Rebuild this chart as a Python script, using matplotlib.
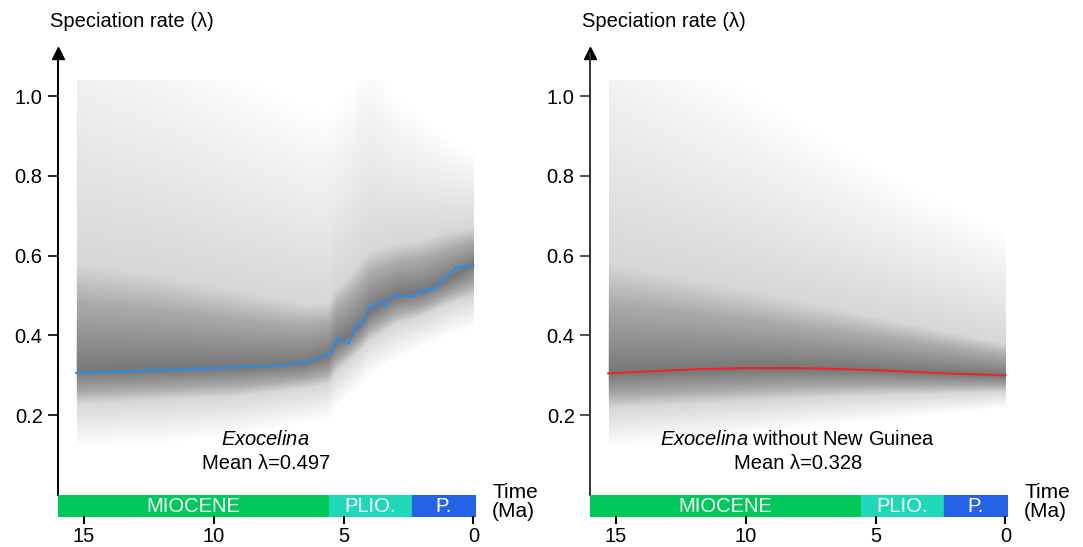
import numpy as np
import matplotlib
matplotlib.use("Agg")
import matplotlib.pyplot as plt
from matplotlib.patches import Rectangle

plt.rcParams['font.family'] = ['Liberation Sans', 'DejaVu Sans']
plt.rcParams['mathtext.fontset'] = 'custom'
plt.rcParams['mathtext.rm'] = 'Liberation Sans'
plt.rcParams['mathtext.it'] = 'Liberation Sans:italic'

# mean speciation rate through time
t_exo = [15.3, 14, 12, 10, 8, 7, 6.2, 5.45, 5.25, 4.8, 4.48, 4.33, 4.01, 3.87, 3.59,
         3.40, 3.23, 2.95, 2.82, 2.31, 2.15, 1.92, 1.72, 1.54, 1.28, 0.64, 0.51, 0.13, 0.0]
rate_exo = [0.306, 0.309, 0.313, 0.318, 0.323, 0.328, 0.338, 0.357, 0.393, 0.380, 0.429,
            0.424, 0.468, 0.472, 0.485, 0.474, 0.495, 0.501, 0.499, 0.497, 0.512, 0.505,
            0.518, 0.516, 0.531, 0.571, 0.570, 0.576, 0.575]

t_ng = [15.3, 14, 12, 10, 8, 6, 4, 2, 0]
rate_ng = [0.305, 0.309, 0.315, 0.318, 0.318, 0.315, 0.310, 0.304, 0.300]

# posterior density envelopes (mode, 50% and 95% bounds)
tb_exo = [15.3, 12, 9, 6.5, 5.6, 5.3, 4.8, 4.3, 4.0, 3.5, 3.0, 2.0, 1.0, 0.0]
mode_exo = [0.31, 0.315, 0.32, 0.33, 0.35, 0.38, 0.40, 0.43, 0.46, 0.48, 0.50, 0.51, 0.54, 0.58]
hi95_exo = [1.30, 1.18, 1.06, 0.97, 0.96, 0.98, 1.02, 1.08, 1.10, 1.05, 1.00, 0.95, 0.90, 0.86]
hi50_exo = [0.58, 0.55, 0.51, 0.48, 0.48, 0.52, 0.55, 0.59, 0.61, 0.62, 0.63, 0.64, 0.66, 0.67]
lo50_exo = [0.23, 0.24, 0.25, 0.27, 0.28, 0.31, 0.34, 0.37, 0.39, 0.41, 0.43, 0.45, 0.48, 0.50]
lo95_exo = [0.12, 0.13, 0.15, 0.18, 0.19, 0.22, 0.25, 0.28, 0.30, 0.32, 0.34, 0.37, 0.40, 0.42]

tb_ng = [15.3, 12, 9, 6, 3, 0]
mode_ng = [0.305, 0.313, 0.318, 0.316, 0.308, 0.300]
hi95_ng = [1.25, 1.10, 0.98, 0.86, 0.75, 0.66]
hi50_ng = [0.58, 0.54, 0.50, 0.46, 0.42, 0.38]
lo50_ng = [0.22, 0.23, 0.24, 0.25, 0.255, 0.26]
lo95_ng = [0.12, 0.14, 0.16, 0.18, 0.20, 0.22]

# geological time scale
epoch_names = ["MIOCENE", "PLIO.", "P."]
epoch_start = [16.0, 5.58, 2.37]
epoch_end = [5.58, 2.37, -0.06]
epoch_colors = ["#00c85a", "#1ed8b8", "#2563e6"]

yticks = [0.2, 0.4, 0.6, 0.8, 1.0]
xticks = [15, 10, 5, 0]
grid_top = 1.04


def density(ax, tb, mode, lo95, lo50, hi50, hi95, n=40, a_in=0.012, a_out=0.005):
    tb = np.array(tb); mode = np.array(mode)
    lo95 = np.array(lo95); lo50 = np.array(lo50)
    hi50 = np.array(hi50); hi95 = np.array(hi95)
    clip = Rectangle((0, 0), tb[0], grid_top, transform=ax.transData)
    # outer layers first (light), then inner layers (dark)
    for k in range(n, 0, -1):
        g = k / n
        up = hi50 + g * (hi95 - hi50)
        lo = lo50 - g * (lo50 - lo95)
        p = ax.fill_between(tb, lo, up, color="black", alpha=a_out, lw=0)
        p.set_clip_path(clip)
    for k in range(n, 0, -1):
        g = k / n
        up = mode + g * (hi50 - mode)
        lo = mode - g * (mode - lo50)
        p = ax.fill_between(tb, lo, up, color="black", alpha=a_in, lw=0)
        p.set_clip_path(clip)


def panel(left, spine_col, line_t, line_r, line_col, band, name, mean_txt):
    ax = fig.add_axes([left, 52 / 547, 0.385, (495 - 52.5) / 547])
    density(ax, *band)
    ax.plot(line_t, line_r, color=line_col, lw=1.5)
    ax.set_xlim(16, -0.06)
    ax.set_ylim(0, (495 - 52.5) / 399)
    for s in ["top", "right", "bottom"]:
        ax.spines[s].set_visible(False)
    ax.spines["left"].set_color(spine_col)
    ax.spines["left"].set_linewidth(1.4)
    ax.plot(0, 1, marker="^", ms=8.5, color="black", transform=ax.transAxes, clip_on=False)
    ax.set_xticks([])
    ax.set_yticks(yticks)
    ax.set_yticklabels([f"{v:.1f}" for v in yticks])
    ax.tick_params(axis="y", length=7, width=1.2, color=spine_col, labelsize=14.5, pad=4)
    ax.text(-0.019, 1.07, "Speciation rate (λ)", transform=ax.transAxes, fontsize=14.5,
            ha="left", va="center")
    ax.text(8, 0.138, name, ha="center", va="center", fontsize=14.5)
    ax.text(8, 0.08, mean_txt, ha="center", va="center", fontsize=14.5)

    bar = fig.add_axes([left, 31 / 547, 0.385, 21 / 547])
    for nm, s, e, c in zip(epoch_names, epoch_start, epoch_end, epoch_colors):
        bar.broken_barh([(e, s - e)], (0, 1), color=c)
        bar.text((s + e) / 2, 0.45, nm, color="white", ha="center", va="center", fontsize=14.5)
    bar.set_xlim(16, -0.06)
    bar.set_ylim(0, 1)
    for s in ["top", "right", "left", "bottom"]:
        bar.spines[s].set_visible(False)
    bar.set_yticks([])
    bar.set_xticks(xticks)
    bar.tick_params(axis="x", length=6, width=1.5, labelsize=14.5, pad=2)
    bar.text(-0.72, 1.1, "Time", ha="left", va="center", fontsize=15, clip_on=False)
    bar.text(-0.72, 0.22, "(Ma)", ha="left", va="center", fontsize=15, clip_on=False)
    return ax


fig = plt.figure(figsize=(10.83, 5.47), dpi=100)

panel(58 / 1083, "black", t_exo, rate_exo, "#2a8cea",
      (tb_exo, mode_exo, lo95_exo, lo50_exo, hi50_exo, hi95_exo),
      r"$\it{Exocelina}$", "Mean λ=0.497")
panel(590 / 1083, "#333333", t_ng, rate_ng, "#e8282c",
      (tb_ng, mode_ng, lo95_ng, lo50_ng, hi50_ng, hi95_ng),
      r"$\it{Exocelina}$ without New Guinea", "Mean λ=0.328")

fig.savefig("out.png", dpi=100)
